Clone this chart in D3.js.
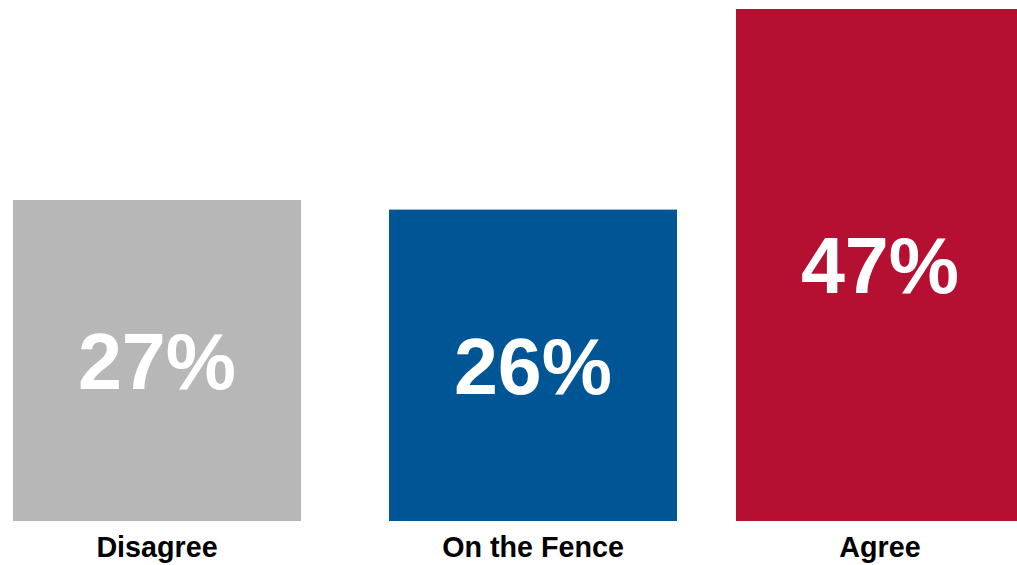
<!DOCTYPE html>
<html>
<head>
<meta charset="utf-8">
<script src="https://cdn.jsdelivr.net/npm/d3@7"></script>
<style>
  html, body { margin: 0; padding: 0; background: #ffffff; overflow: hidden; }
  svg { display: block; font-family: "Liberation Sans", Arial, sans-serif; }
</style>
</head>
<body>
<svg id="chart" width="1017" height="565"></svg>
<script>
const categories = ["Disagree", "On the Fence", "Agree"];
const values = [27, 26, 47];
const valueLabels = ["27%", "26%", "47%"];
const colors = ["#b7b7b7", "#005595", "#b51032"];

const W = 1017, H = 565;
const svg = d3.select("#chart");

// bar centres (uneven spacing as in the reference)
const x = d3.scaleOrdinal().domain(categories).range([157, 533, 880]);
const barW = 288;
const baseY = 521;
const y = d3.scaleLinear().domain([-6.6, 47]).range([baseY, 9]);

const data = categories.map((c, i) => ({ c, v: values[i], label: valueLabels[i], color: colors[i] }));

const g = svg.append("g");

g.selectAll("rect.bar").data(data).join("rect")
  .attr("class", "bar")
  .attr("x", d => x(d.c) - barW / 2)
  .attr("width", barW)
  .attr("y", d => y(d.v))
  .attr("height", d => baseY - y(d.v))
  .attr("fill", d => d.color);

const valFs = 79;
g.selectAll("text.val").data(data).join("text")
  .attr("class", "val")
  .attr("x", d => x(d.c))
  .attr("y", d => (y(d.v) + baseY) / 2 + valFs * 0.358)
  .attr("text-anchor", "middle")
  .attr("fill", "#ffffff")
  .attr("font-weight", "bold")
  .attr("font-size", valFs + "px")
  .text(d => d.label);

g.selectAll("text.cat").data(data).join("text")
  .attr("class", "cat")
  .attr("x", d => x(d.c))
  .attr("y", 557)
  .attr("text-anchor", "middle")
  .attr("fill", "#000000")
  .attr("font-weight", "bold")
  .attr("font-size", "28.7px")
  .text(d => d.c);
</script>
</body>
</html>
